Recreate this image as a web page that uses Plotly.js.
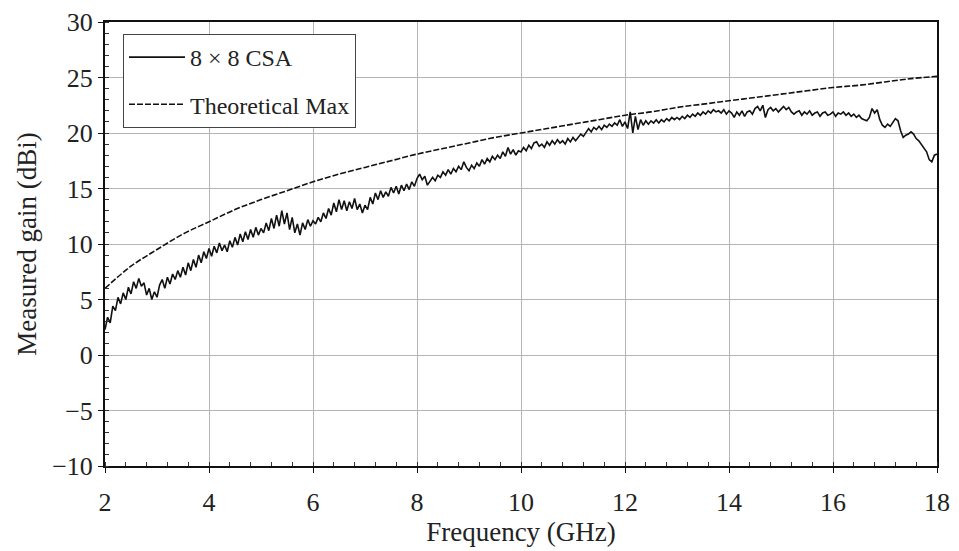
<!DOCTYPE html>
<html>
<head>
<meta charset="utf-8">
<script src="https://cdn.plot.ly/plotly-3.0.1.min.js"></script>
<style>
html,body{margin:0;padding:0;background:#fff;}
#chart{width:959px;height:551px;}
</style>
</head>
<body>
<div id="chart"></div>
<script>
// Measured gain of the 8x8 CSA, sampled every 0.05 GHz from 2 GHz to 18 GHz
const measuredStartGHz = 2;
const measuredStepGHz = 0.05;
const measuredGain = [
  2.3,3.4,2.9,4.4,4.0,5.2,4.6,5.6,5.0,6.1,5.5,6.6,6.0,6.9,6.2,6.5,5.4,6.0,5.0,5.7,
  5.2,6.3,6.8,6.0,7.0,6.4,7.3,6.8,7.6,7.0,7.9,7.2,8.3,7.6,8.6,7.9,9.0,8.3,9.3,8.7,
  9.6,8.9,9.8,9.2,10.1,9.4,9.9,9.3,10.3,9.7,10.6,9.9,10.9,10.2,11.1,10.4,11.3,10.6,11.5,10.8,
  11.4,11.0,11.9,11.2,12.3,11.4,12.6,11.6,13.0,11.8,12.8,11.3,12.4,11.0,11.8,10.8,11.9,11.3,12.2,11.6,
  12.1,11.8,12.4,12.0,12.8,12.3,13.2,12.6,13.7,12.9,14.0,13.1,13.9,13.0,13.8,13.2,14.1,13.1,13.6,12.8,
  13.5,13.1,14.2,13.6,14.6,14.0,14.8,14.2,14.7,14.3,15.1,14.6,15.2,14.5,15.3,14.8,15.4,14.9,15.6,15.2,
  15.9,16.3,15.8,16.1,15.3,15.6,16.0,15.7,16.2,16.0,16.5,16.2,16.7,16.3,16.8,16.5,17.0,16.7,17.4,16.9,
  16.6,17.1,16.8,17.3,17.0,17.6,17.2,17.7,17.4,17.9,17.6,18.0,17.7,18.3,17.9,18.7,18.1,18.5,18.0,18.4,
  18.3,18.7,18.4,18.9,18.6,19.1,19.2,18.8,19.0,18.7,19.2,18.9,19.3,19.0,19.4,19.1,19.3,19.0,19.5,19.2,
  19.6,19.3,19.6,19.9,19.7,20.0,20.4,20.1,20.5,20.3,20.6,20.3,20.7,20.5,20.8,20.6,20.9,20.7,21.2,20.6,
  21.0,20.4,21.9,20.0,21.5,20.3,21.2,20.7,21.1,20.8,21.1,20.9,21.2,20.9,21.2,21.0,21.3,21.1,21.4,21.2,
  21.4,21.2,21.5,21.3,21.6,21.4,21.7,21.5,21.8,21.6,21.9,21.7,22.0,21.8,22.1,21.9,22.0,21.8,22.1,21.7,
  22.0,21.8,21.4,21.9,21.6,22.0,21.5,21.9,22.0,21.7,22.2,22.4,22.0,22.5,21.4,22.1,22.3,22.0,22.2,21.9,
  22.2,22.4,22.1,22.3,21.9,21.7,21.9,22.0,21.6,21.9,21.7,22.0,21.6,21.8,21.9,21.5,21.8,21.9,21.6,21.7,
  21.9,21.5,21.8,21.7,21.9,21.6,21.8,21.5,21.7,21.4,21.6,21.3,21.2,21.1,21.4,22.2,21.8,22.1,21.2,20.7,
  20.5,20.8,20.6,21.0,21.3,21.1,20.2,19.6,19.8,19.9,20.1,19.9,19.5,19.3,19.0,18.6,18.3,17.6,17.4,18.0,
  18.1
];

// Theoretical maximum gain, read every 0.5 GHz
const theoryStartGHz = 2;
const theoryStepGHz = 0.5;
const theoryGain = [
  6.0,8.0,9.5,10.9,12.0,13.1,14.0,14.8,15.6,16.3,16.9,17.5,18.1,18.6,19.1,19.6,
  20.0,20.4,20.8,21.2,21.6,21.9,22.3,22.6,22.9,23.2,23.5,23.8,24.1,24.3,24.6,24.9,25.1
];

const seriesNames = ['8 \u00d7 8 CSA', 'Theoretical Max'];
const xTicks = [2,4,6,8,10,12,14,16,18];
const yTicks = [-10,-5,0,5,10,15,20,25,30];

const serif = 'Liberation Serif, Times New Roman, serif';

const traces = [
  {
    type: 'scatter', mode: 'lines', name: seriesNames[0],
    x0: measuredStartGHz, dx: measuredStepGHz, y: measuredGain,
    line: {color: '#111', width: 1.6},
    legendgroup: 'a'
  },
  {
    type: 'scatter', mode: 'lines', name: seriesNames[1],
    x0: theoryStartGHz, dx: theoryStepGHz, y: theoryGain,
    line: {color: '#111', width: 1.6, dash: '6px,2px', shape: 'spline'},
    legendgroup: 'b'
  }
];

const layout = {
  width: 959, height: 551,
  margin: {l: 105, r: 22, t: 22, b: 85},
  paper_bgcolor: '#fff', plot_bgcolor: '#fff',
  font: {family: serif, color: '#222', size: 22},
  showlegend: true,
  legend: {
    x: 0.0216, y: 0.973, xanchor: 'left', yanchor: 'top',
    bgcolor: '#fff', bordercolor: '#444', borderwidth: 1,
    font: {family: serif, size: 24, color: '#222'},
    traceorder: 'grouped', tracegroupgap: 13,
    itemwidth: 56
  },
  xaxis: {
    range: [2, 18], tickvals: xTicks, ticktext: xTicks.map(String),
    showgrid: true, gridcolor: '#b5b5b5', gridwidth: 1,
    showline: true, linecolor: '#111', linewidth: 2, mirror: true,
    ticks: 'outside', ticklen: 5, tickcolor: '#111',
    ticklabelstandoff: 7,
    tickfont: {family: serif, size: 26, color: '#222'},
    zeroline: false,
    minor: {dtick: 0.4, tick0: 2, ticks: 'inside', ticklen: 4, tickcolor: '#333', showgrid: false},
    title: {text: 'Frequency (GHz)', font: {family: serif, size: 27, color: '#222'}, standoff: 6}
  },
  yaxis: {
    range: [-10, 30], tickvals: yTicks, ticktext: yTicks.map(v => v < 0 ? '\u2212' + Math.abs(v) : String(v)),
    showgrid: true, gridcolor: '#b5b5b5', gridwidth: 1,
    showline: true, linecolor: '#111', linewidth: 2, mirror: true,
    ticks: 'outside', ticklen: 5, tickcolor: '#111',
    tickfont: {family: serif, size: 26, color: '#222'},
    zeroline: false,
    minor: {dtick: 1, tick0: 0, ticks: 'inside', ticklen: 4, tickcolor: '#333', showgrid: false},
    title: {text: 'Measured gain (dBi)', font: {family: serif, size: 27, color: '#222'}, standoff: 8}
  }
};

Plotly.newPlot('chart', traces, layout, {staticPlot: true, displayModeBar: false});
</script>
</body>
</html>
